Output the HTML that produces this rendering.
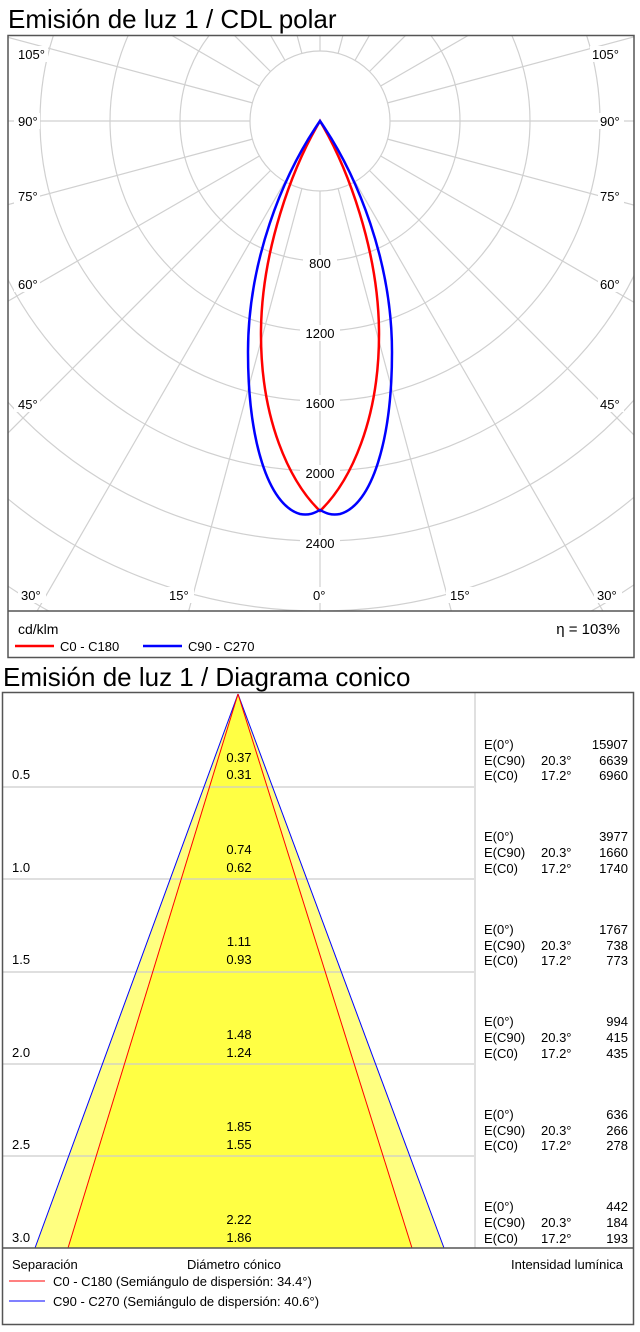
<!DOCTYPE html>
<html><head><meta charset="utf-8"><style>
body{margin:0;background:#fff}
svg{display:block;font-family:"Liberation Sans",Arial,sans-serif}
</style></head><body>
<svg width="640" height="1332" viewBox="0 0 640 1332" xmlns="http://www.w3.org/2000/svg">
<defs><clipPath id="pc"><rect x="8" y="36" width="626" height="575"/></clipPath></defs>
<text x="8" y="28" font-size="26" fill="#000">Emisión de luz 1 / CDL polar</text>
<g clip-path="url(#pc)" stroke="#d0d0d0" stroke-width="1.2" fill="none">
<g transform="translate(320,121)">
<circle r="70"/><circle r="140"/><circle r="210"/><circle r="280"/><circle r="350"/><circle r="420"/><circle r="490"/><circle r="560"/><circle r="630"/><circle r="700"/>
<line x1="0" y1="70" x2="0" y2="1000" transform="rotate(0)"/>
<line x1="0" y1="70" x2="0" y2="1000" transform="rotate(15)"/>
<line x1="0" y1="70" x2="0" y2="1000" transform="rotate(30)"/>
<line x1="0" y1="70" x2="0" y2="1000" transform="rotate(45)"/>
<line x1="0" y1="70" x2="0" y2="1000" transform="rotate(60)"/>
<line x1="0" y1="70" x2="0" y2="1000" transform="rotate(75)"/>
<line x1="0" y1="70" x2="0" y2="1000" transform="rotate(90)"/>
<line x1="0" y1="70" x2="0" y2="1000" transform="rotate(105)"/>
<line x1="0" y1="70" x2="0" y2="1000" transform="rotate(120)"/>
<line x1="0" y1="70" x2="0" y2="1000" transform="rotate(135)"/>
<line x1="0" y1="70" x2="0" y2="1000" transform="rotate(150)"/>
<line x1="0" y1="70" x2="0" y2="1000" transform="rotate(165)"/>
<line x1="0" y1="70" x2="0" y2="1000" transform="rotate(180)"/>
<line x1="0" y1="70" x2="0" y2="1000" transform="rotate(195)"/>
<line x1="0" y1="70" x2="0" y2="1000" transform="rotate(210)"/>
<line x1="0" y1="70" x2="0" y2="1000" transform="rotate(225)"/>
<line x1="0" y1="70" x2="0" y2="1000" transform="rotate(240)"/>
<line x1="0" y1="70" x2="0" y2="1000" transform="rotate(255)"/>
<line x1="0" y1="70" x2="0" y2="1000" transform="rotate(270)"/>
<line x1="0" y1="70" x2="0" y2="1000" transform="rotate(285)"/>
<line x1="0" y1="70" x2="0" y2="1000" transform="rotate(300)"/>
<line x1="0" y1="70" x2="0" y2="1000" transform="rotate(315)"/>
<line x1="0" y1="70" x2="0" y2="1000" transform="rotate(330)"/>
<line x1="0" y1="70" x2="0" y2="1000" transform="rotate(345)"/>
</g></g>
<g font-size="13" fill="#000">
<g fill="#fff"><rect x="14" y="46" width="34" height="16"/><rect x="590" y="46" width="34" height="16"/><rect x="14" y="113" width="26" height="16"/><rect x="598" y="113" width="26" height="16"/><rect x="14" y="188" width="26" height="16"/><rect x="598" y="188" width="26" height="16"/><rect x="14" y="276" width="26" height="16"/><rect x="598" y="276" width="26" height="16"/><rect x="14" y="396" width="26" height="16"/><rect x="598" y="396" width="26" height="16"/><rect x="18" y="587" width="28" height="16"/><rect x="166" y="587" width="28" height="16"/><rect x="310" y="587" width="22" height="16"/><rect x="446" y="587" width="28" height="16"/><rect x="594" y="587" width="28" height="16"/>
<rect x="303" y="255" width="34" height="16"/><rect x="300" y="325" width="40" height="16"/><rect x="300" y="395" width="40" height="16"/><rect x="300" y="465" width="40" height="16"/><rect x="300" y="535" width="40" height="16"/></g>
<text x="18" y="59">105°</text><text x="592" y="59">105°</text>
<text x="18" y="126">90°</text><text x="600" y="126">90°</text>
<text x="18" y="201">75°</text><text x="600" y="201">75°</text>
<text x="18" y="289">60°</text><text x="600" y="289">60°</text>
<text x="18" y="409">45°</text><text x="600" y="409">45°</text>
<text x="21" y="600">30°</text><text x="169" y="600">15°</text><text x="313" y="600">0°</text><text x="450" y="600">15°</text><text x="597" y="600">30°</text>
<g text-anchor="middle"><text x="320" y="268">800</text><text x="320" y="338">1200</text><text x="320" y="408">1600</text><text x="320" y="478">2000</text><text x="320" y="548">2400</text></g>
</g>
<path d="M320,121 C292,168 262,250 261,330 C260,420 290,482 320,511 C350,482 380,420 379,330 C378,250 348,168 320,121Z" fill="none" stroke="#f00" stroke-width="2.5"/>
<path d="M320,121 C282,176 248,262 248,352 C248,440 268,505 300,514 C310,516 316,512 320,510 C324,512 330,516 340,514 C372,505 392,440 392,352 C392,262 358,176 320,121Z" fill="none" stroke="#00f" stroke-width="2.5"/>
<rect x="8" y="35.5" width="626" height="622" fill="none" stroke="#555" stroke-width="1.5"/>
<line x1="8" y1="611" x2="634" y2="611" stroke="#555" stroke-width="1.5"/>
<text x="18" y="634" font-size="14">cd/klm</text>
<text x="620" y="634" font-size="15" text-anchor="end">η = 103%</text>
<line x1="15" y1="646" x2="54" y2="646" stroke="#f00" stroke-width="2.5"/><text x="60" y="651" font-size="13">C0 - C180</text>
<line x1="143" y1="646" x2="182" y2="646" stroke="#00f" stroke-width="2.5"/><text x="188" y="651" font-size="13">C90 - C270</text>

<text x="3" y="686" font-size="26">Emisión de luz 1 / Diagrama conico</text>
<polygon points="238,694 35,1248 444,1248" fill="#ffff80"/>
<polygon points="238,694 68,1248 412,1248" fill="#ffff44"/>
<g stroke="#ccc" stroke-width="1.2"><line x1="3" y1="787" x2="474" y2="787"/><line x1="3" y1="879" x2="474" y2="879"/><line x1="3" y1="972" x2="474" y2="972"/><line x1="3" y1="1064" x2="474" y2="1064"/><line x1="3" y1="1156" x2="474" y2="1156"/></g>
<line x1="238" y1="694" x2="35" y2="1248" stroke="#00f" stroke-width="1"/><line x1="238" y1="694" x2="444" y2="1248" stroke="#00f" stroke-width="1"/>
<line x1="238" y1="694" x2="68" y2="1248" stroke="#f00" stroke-width="1"/><line x1="238" y1="694" x2="412" y2="1248" stroke="#f00" stroke-width="1"/>
<line x1="475" y1="693" x2="475" y2="1248" stroke="#ccc" stroke-width="1.2"/>
<rect x="2.5" y="692.5" width="631" height="632" fill="none" stroke="#555" stroke-width="1.5"/>
<line x1="2" y1="1248" x2="634" y2="1248" stroke="#555" stroke-width="1.5"/>
<g font-size="13">
<g><text x="12" y="779">0.5</text><text x="12" y="872">1.0</text><text x="12" y="964">1.5</text><text x="12" y="1057">2.0</text><text x="12" y="1149">2.5</text><text x="12" y="1242">3.0</text></g>
<g text-anchor="middle">
<text x="239" y="762">0.37</text><text x="239" y="779">0.31</text>
<text x="239" y="854">0.74</text><text x="239" y="872">0.62</text>
<text x="239" y="946">1.11</text><text x="239" y="964">0.93</text>
<text x="239" y="1039">1.48</text><text x="239" y="1057">1.24</text>
<text x="239" y="1131">1.85</text><text x="239" y="1149">1.55</text>
<text x="239" y="1224">2.22</text><text x="239" y="1242">1.86</text>
</g>
<g>
<text x="484" y="749">E(0°)</text><text x="484" y="765">E(C90)</text><text x="484" y="780">E(C0)</text>
<text x="484" y="841">E(0°)</text><text x="484" y="857">E(C90)</text><text x="484" y="873">E(C0)</text>
<text x="484" y="934">E(0°)</text><text x="484" y="950">E(C90)</text><text x="484" y="965">E(C0)</text>
<text x="484" y="1026">E(0°)</text><text x="484" y="1042">E(C90)</text><text x="484" y="1058">E(C0)</text>
<text x="484" y="1119">E(0°)</text><text x="484" y="1135">E(C90)</text><text x="484" y="1150">E(C0)</text>
<text x="484" y="1211">E(0°)</text><text x="484" y="1227">E(C90)</text><text x="484" y="1243">E(C0)</text>
</g>
<g>
<text x="541" y="765">20.3°</text><text x="541" y="780">17.2°</text>
<text x="541" y="857">20.3°</text><text x="541" y="873">17.2°</text>
<text x="541" y="950">20.3°</text><text x="541" y="965">17.2°</text>
<text x="541" y="1042">20.3°</text><text x="541" y="1058">17.2°</text>
<text x="541" y="1135">20.3°</text><text x="541" y="1150">17.2°</text>
<text x="541" y="1227">20.3°</text><text x="541" y="1243">17.2°</text>
</g>
<g text-anchor="end">
<text x="628" y="749">15907</text><text x="628" y="765">6639</text><text x="628" y="780">6960</text>
<text x="628" y="841">3977</text><text x="628" y="857">1660</text><text x="628" y="873">1740</text>
<text x="628" y="934">1767</text><text x="628" y="950">738</text><text x="628" y="965">773</text>
<text x="628" y="1026">994</text><text x="628" y="1042">415</text><text x="628" y="1058">435</text>
<text x="628" y="1119">636</text><text x="628" y="1135">266</text><text x="628" y="1150">278</text>
<text x="628" y="1211">442</text><text x="628" y="1227">184</text><text x="628" y="1243">193</text>
</g>
<text x="12" y="1269">Separación</text>
<text x="187" y="1269">Diámetro cónico</text>
<text x="623" y="1269" text-anchor="end">Intensidad lumínica</text>
<line x1="9" y1="1281" x2="45" y2="1281" stroke="#f00" stroke-width="1"/><text x="53" y="1286">C0 - C180 (Semiángulo de dispersión: 34.4°)</text>
<line x1="9" y1="1301" x2="45" y2="1301" stroke="#00f" stroke-width="1"/><text x="53" y="1306">C90 - C270 (Semiángulo de dispersión: 40.6°)</text>
</g>
</svg>
</body></html>
